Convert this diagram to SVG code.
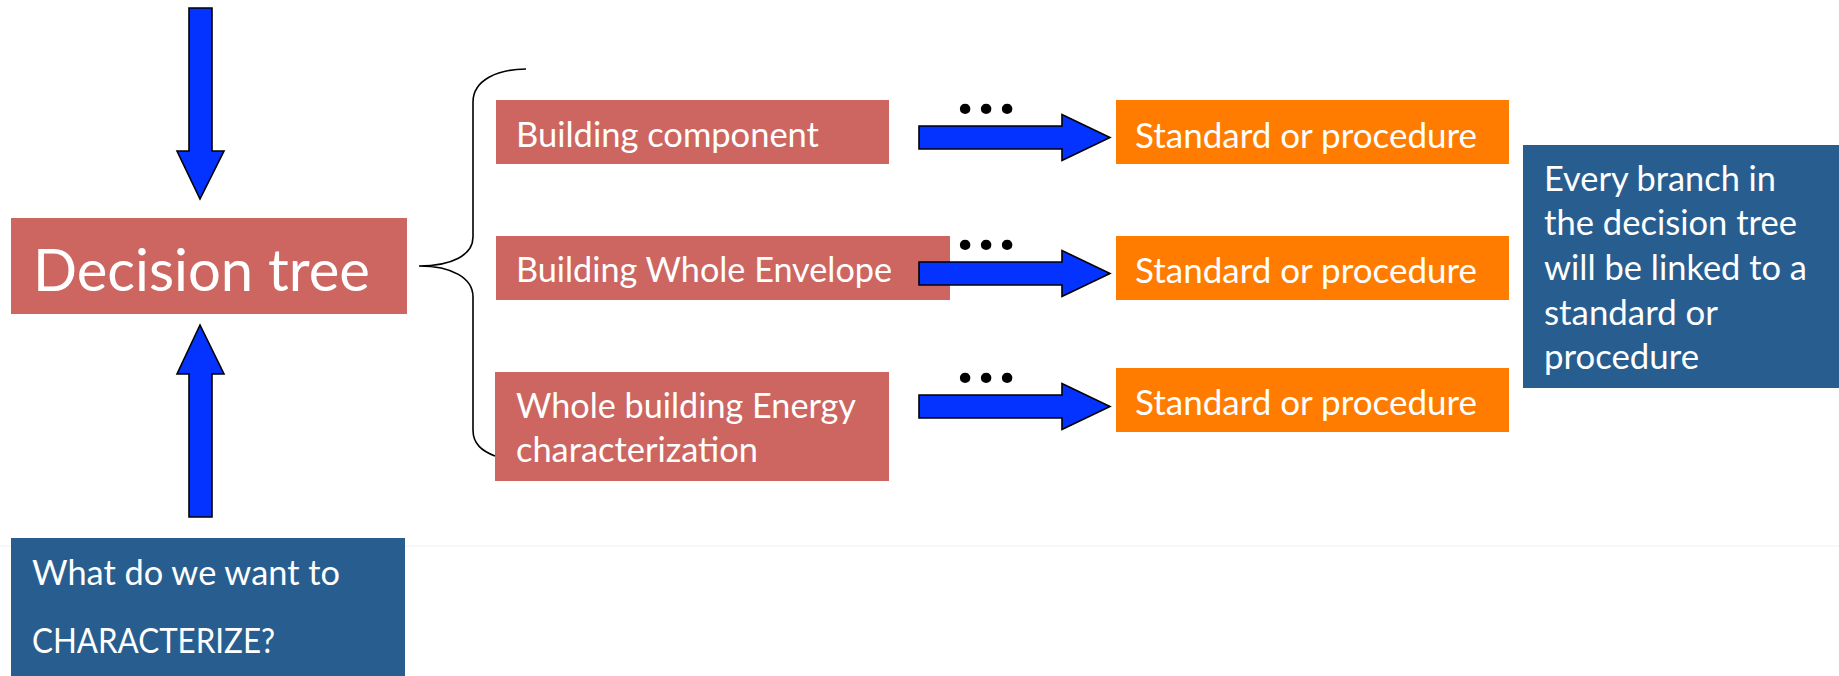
<svg xmlns="http://www.w3.org/2000/svg" width="1839" height="676" viewBox="0 0 1839 676">
<style>
.red{fill:#CD6660}
.org{fill:#FF7C00}
.blu{fill:#285E8F}
.arr{fill:#0433FF;stroke:#000;stroke-width:1.6;stroke-linejoin:miter}
.t{font-family:Lato,"Liberation Sans",sans-serif;fill:#fff;font-size:34px}
.big{font-size:58px}
.dots{font-family:Lato,"Liberation Sans",sans-serif;font-weight:900;font-size:64px;fill:#000}
.brace{fill:none;stroke:#000;stroke-width:1.6}
</style>
<defs>
<path id="harrow" d="M919,-11.5 L1062,-11.5 L1062,-23 L1110,0 L1062,23 L1062,11.5 L919,11.5 Z"/>
</defs>
<rect width="1839" height="676" fill="#fff"/>
<line x1="0" y1="546" x2="1839" y2="546" stroke="#f2f2f2" stroke-width="1"/>

<g id="decision-tree">
<rect class="red" x="11" y="218" width="396" height="96"/>
<text class="t big" x="33" y="291" textLength="337" lengthAdjust="spacingAndGlyphs">Decision tree</text>
</g>

<g id="question">
<rect class="blu" x="11" y="538" width="394" height="138"/>
<text class="t" x="32" y="585" textLength="308" lengthAdjust="spacingAndGlyphs">What do we want to</text>
<text class="t" x="32" y="653" textLength="243" lengthAdjust="spacingAndGlyphs">CHARACTERIZE?</text>
</g>

<g id="building-component">
<rect class="red" x="496" y="100" width="393" height="64"/>
<text class="t" x="516" y="147" textLength="303" lengthAdjust="spacingAndGlyphs">Building component</text>
</g>

<g id="building-whole-envelope">
<rect class="red" x="496" y="236" width="454" height="64"/>
<text class="t" x="516" y="282" textLength="376" lengthAdjust="spacingAndGlyphs">Building Whole Envelope</text>
</g>

<g id="whole-building-energy">
<rect class="red" x="495" y="372" width="394" height="109"/>
<text class="t" x="516" y="418" textLength="340" lengthAdjust="spacingAndGlyphs">Whole building Energy</text>
<text class="t" x="516" y="462" textLength="242" lengthAdjust="spacingAndGlyphs">characterization</text>
</g>

<g id="standard-1">
<rect class="org" x="1116" y="100" width="393" height="64"/>
<text class="t" x="1135" y="148" textLength="342" lengthAdjust="spacingAndGlyphs">Standard or procedure</text>
</g>
<g id="standard-2">
<rect class="org" x="1116" y="236" width="393" height="64"/>
<text class="t" x="1135" y="283" textLength="342" lengthAdjust="spacingAndGlyphs">Standard or procedure</text>
</g>
<g id="standard-3">
<rect class="org" x="1116" y="368" width="393" height="64"/>
<text class="t" x="1135" y="415" textLength="342" lengthAdjust="spacingAndGlyphs">Standard or procedure</text>
</g>

<g id="note">
<rect class="blu" x="1523" y="145" width="316" height="243"/>
<text class="t" x="1544" y="191" textLength="232" lengthAdjust="spacingAndGlyphs">Every branch in</text>
<text class="t" x="1544" y="235" textLength="253" lengthAdjust="spacingAndGlyphs">the decision tree</text>
<text class="t" x="1544" y="280" textLength="263" lengthAdjust="spacingAndGlyphs">will be linked to a</text>
<text class="t" x="1544" y="325" textLength="174" lengthAdjust="spacingAndGlyphs">standard or</text>
<text class="t" x="1544" y="369" textLength="155" lengthAdjust="spacingAndGlyphs">procedure</text>
</g>

<g id="connectors">
<path class="arr" d="M189,8 L212,8 L212,151 L224,151 L200,199 L177,151 L189,151 Z"/>
<path class="arr" d="M189,517 L212,517 L212,374 L224,374 L200,325 L177,374 L189,374 Z"/>
<path class="brace" d="M526,69 C498,69 473,80 473,102 L473,237 C473,255 452,266 419,266 C452,266 473,278 473,297 L473,430 C473,444 482,451 495,456"/>
<use href="#harrow" class="arr" transform="translate(0,137.5)"/>
<use href="#harrow" class="arr" transform="translate(0,273.5)"/>
<use href="#harrow" class="arr" transform="translate(0,406.5)"/>
<text class="dots" x="965 986 1007" y="114" text-anchor="middle">...</text>
<text class="dots" x="965 986 1007" y="250" text-anchor="middle">...</text>
<text class="dots" x="965 986 1007" y="383" text-anchor="middle">...</text>
</g>
</svg>
